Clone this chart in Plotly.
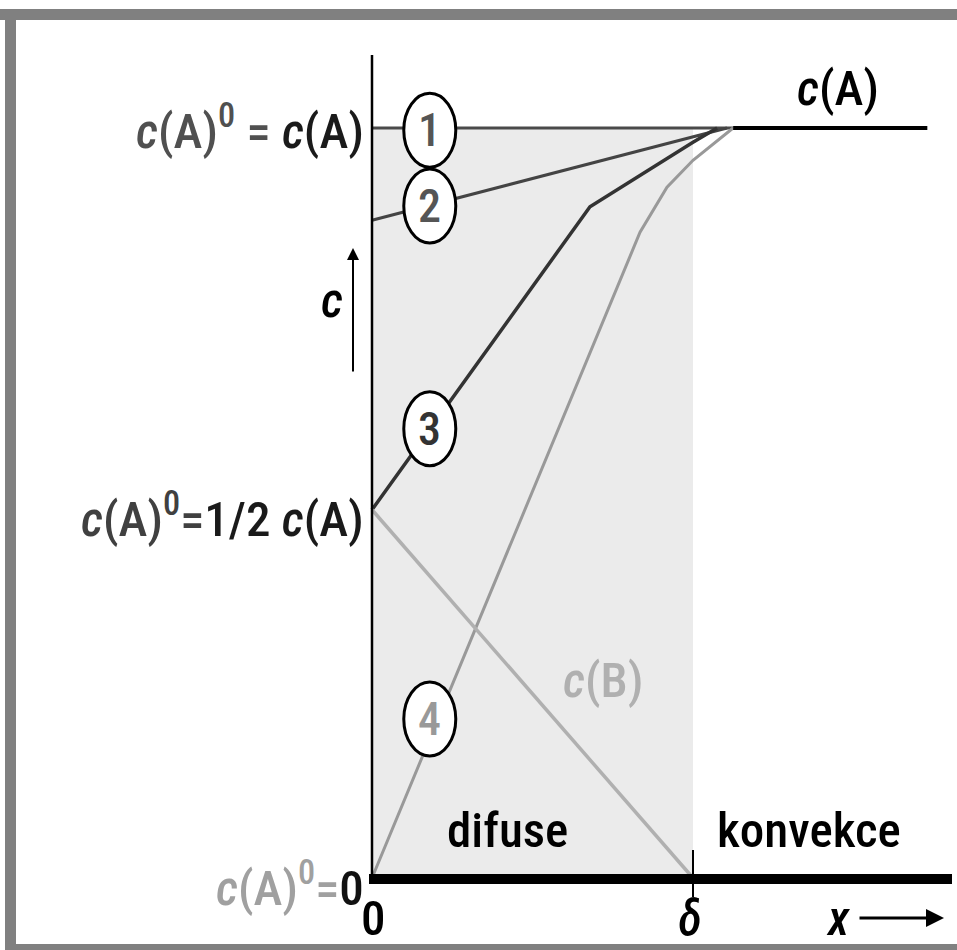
import plotly.graph_objects as go

# ---- data (x in units of delta, y in units of c(A)) ----
line1_x = [0.0, 1.125]
line1_y = [1.0, 1.0]
cA_x = [1.125, 1.73]
cA_y = [1.0, 1.0]
line2_x = [0.0, 1.106]
line2_y = [0.877, 1.0]
line3_x = [0.0, 0.679, 1.0, 1.075]
line3_y = [0.491, 0.895, 0.981, 1.0]
line4_x = [0.0, 0.835, 0.919, 1.0, 1.125]
line4_y = [0.0, 0.861, 0.921, 0.957, 1.0]
cB_x = [0.0, 1.0]
cB_y = [0.491, 0.0]
delta_x = 1.0
circle_labels = ["1", "2", "3", "4"]
circle_x = [0.18, 0.18, 0.18, 0.18]
circle_y = [0.997, 0.896, 0.599, 0.212]
circle_colors = ["#555555", "#555555", "#333333", "#999999"]

W, H = 957, 950
X0, XS = 372, 321
Y0, YS = 878, 750


def dx(px):
    return (px - X0) / XS


def dy(py):
    return (Y0 - py) / YS


FONT = "Liberation Sans Narrow, Arial Narrow, Roboto Condensed, DejaVu Sans Condensed, sans-serif"

fig = go.Figure()
traces = [
    (line1_x, line1_y, "#4a4a4a", 3),
    (line2_x, line2_y, "#444444", 3),
    (line3_x, line3_y, "#333333", 3.5),
    (line4_x, line4_y, "#999999", 3),
    (cB_x, cB_y, "#b0b0b0", 3.5),
    (cA_x, cA_y, "#000000", 4),
]
for xs, ys, col, w in traces:
    fig.add_trace(go.Scatter(x=xs, y=ys, mode="lines",
                             line=dict(color=col, width=w),
                             hoverinfo="skip", showlegend=False))

shapes = []
# diffusion layer shading
shapes.append(dict(type="rect", xref="x", yref="y", x0=0, x1=delta_x, y0=0, y1=1,
                   fillcolor="#ebebeb", line=dict(width=0), layer="below"))
# y axis
shapes.append(dict(type="line", xref="x", yref="y", x0=0, x1=0, y0=0, y1=dy(55),
                   line=dict(color="black", width=2.5)))
# x axis (thick)
shapes.append(dict(type="line", xref="x", yref="y", x0=dx(369), x1=dx(952), y0=dy(879), y1=dy(879),
                   line=dict(color="black", width=10)))
# delta tick
shapes.append(dict(type="line", xref="x", yref="y", x0=delta_x, x1=delta_x, y0=dy(850), y1=dy(897),
                   line=dict(color="black", width=2)))
# circles
for cx, cy in zip(circle_x, circle_y):
    shapes.append(dict(type="circle", xref="x", yref="y",
                       x0=cx - 26 / XS, x1=cx + 26 / XS, y0=cy - 37 / YS, y1=cy + 37 / YS,
                       fillcolor="white", line=dict(color="black", width=3), layer="above"))
# outer gray frame
g = "#808080"
shapes.append(dict(type="rect", xref="paper", yref="paper", x0=0, x1=1,
                   y0=1 - 20 / H, y1=1 - 9 / H, fillcolor=g, line=dict(width=0)))
shapes.append(dict(type="rect", xref="paper", yref="paper", x0=5 / W, x1=16 / W,
                   y0=0, y1=1 - 9 / H, fillcolor=g, line=dict(width=0)))
shapes.append(dict(type="rect", xref="paper", yref="paper", x0=5 / W, x1=1,
                   y0=0, y1=1 - 944 / H, fillcolor=g, line=dict(width=0)))

ann = []


def txt(text, px, py, size=49, color="black", xanchor="center", yanchor="middle"):
    ann.append(dict(text=text, x=dx(px), y=dy(py), xref="x", yref="y", showarrow=False,
                    xanchor=xanchor, yanchor=yanchor,
                    font=dict(family=FONT, size=size, color=color, weight=500)))


txt("<span style='color:#505050'><i>c</i>(A)<sup>0</sup> = </span><i>c</i>(A)", 366, 127,
    xanchor="right", color="#1a1a1a")
txt("<span style='color:#404040'><i>c</i>(A)<sup>0</sup>=</span>1/2 <i>c</i>(A)", 366, 515,
    xanchor="right", color="#1a1a1a")
txt("<span style='color:#a0a0a0'><i>c</i>(A)<sup>0</sup>=</span>0", 366, 884,
    xanchor="right", color="#111111")
txt("<i>c</i>(A)", 838, 88)
txt("<i>c</i>(B)", 603, 680, color="#b0b0b0")
txt("difuse", 507, 830)
txt("konvekce", 809, 830)
txt("0", 373, 918)
txt("<i>δ</i>", 690, 918)
txt("<i>x</i>", 838, 918)
txt("<i>c</i>", 332, 300)
for lab, cx, cy, col in zip(circle_labels, circle_x, circle_y, circle_colors):
    ann.append(dict(text=lab, x=cx, y=cy, xref="x", yref="y", showarrow=False,
                    font=dict(family=FONT, size=46, color=col, weight=500)))
# arrows
ann.append(dict(x=dx(944), y=dy(918), ax=dx(858), ay=dy(918), xref="x", yref="y",
                axref="x", ayref="y", text="", showarrow=True, arrowhead=2,
                arrowsize=1.2, arrowwidth=3, arrowcolor="black"))
ann.append(dict(x=dx(353), y=dy(248), ax=dx(353), ay=dy(373), xref="x", yref="y",
                axref="x", ayref="y", text="", showarrow=True, arrowhead=2,
                arrowsize=1.2, arrowwidth=2, arrowcolor="black"))

fig.update_layout(
    width=W, height=H, margin=dict(l=0, r=0, t=0, b=0),
    paper_bgcolor="white", plot_bgcolor="white",
    xaxis=dict(range=[dx(0), dx(W)], visible=False, fixedrange=True),
    yaxis=dict(range=[dy(H), dy(0)], visible=False, fixedrange=True),
    shapes=shapes, annotations=ann, showlegend=False,
)
fig.write_html("out.html", config={"displayModeBar": False},
               post_script="document.body.style.margin='0';")
